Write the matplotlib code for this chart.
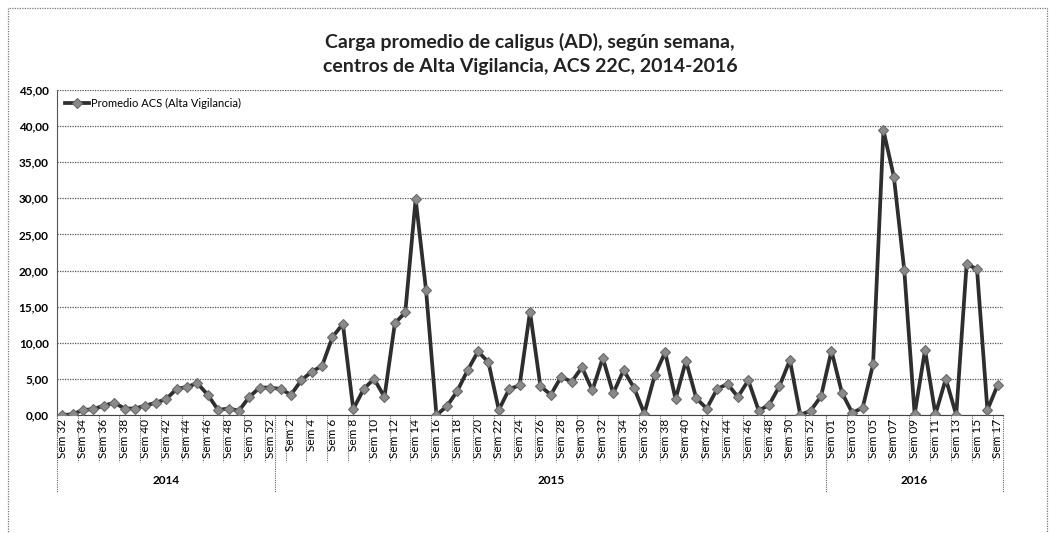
import matplotlib
matplotlib.use('Agg')
import matplotlib.pyplot as plt
import matplotlib.transforms as mtransforms
from matplotlib.patches import Rectangle

# --- data ---
weeks_2014 = list(range(32, 53))   # Sem 32 .. Sem 52
weeks_2015 = list(range(1, 54))    # Sem 1 .. Sem 53
weeks_2016 = list(range(1, 18))    # Sem 01 .. Sem 17
years = ['2014', '2015', '2016']

promedio = [
    # 2014
    0.0, 0.1, 0.7, 0.8, 1.3, 1.7, 0.9, 0.9, 1.3, 1.7, 2.2,
    3.6, 3.9, 4.4, 2.8, 0.7, 0.9, 0.6, 2.5, 3.8, 3.8,
    # 2015
    3.6, 2.8, 4.8, 6.0, 6.8, 10.8, 12.6, 0.8, 3.6, 5.0,
    2.5, 12.7, 14.2, 29.9, 17.3, 0.0, 1.2, 3.3, 6.2, 8.8,
    7.3, 0.7, 3.6, 4.1, 14.3, 4.0, 2.8, 5.3, 4.6, 6.6,
    3.4, 7.9, 3.0, 6.2, 3.8, 0.2, 5.5, 8.7, 2.2, 7.5,
    2.3, 0.9, 3.6, 4.3, 2.5, 4.8, 0.6, 1.4, 4.0, 7.6,
    0.0, 0.6, 2.6,
    # 2016
    8.9, 3.1, 0.3, 1.0, 7.0, 39.4, 33.0, 20.1, 0.1, 9.0,
    0.1, 5.0, 0.0, 20.9, 20.2, 0.7, 4.2,
]

cat_labels = (['Sem %d' % w for w in weeks_2014] +
              ['Sem %d' % w for w in weeks_2015] +
              ['Sem %02d' % w for w in weeks_2016])
group_sizes = [len(weeks_2014), len(weeks_2015), len(weeks_2016)]
y_ticks = [0, 5, 10, 15, 20, 25, 30, 35, 40, 45]

plt.rcParams['font.family'] = ['Lato', 'DejaVu Sans']

fig = plt.figure(figsize=(10.5, 5.33), dpi=100)
ax = fig.add_axes([57/1050, 1-415/533, 946/1050, 325/533])

x = list(range(len(promedio)))
ax.plot(x, promedio, color='#2e2e2e', lw=2.7, marker='D', ms=5.5,
        mfc='#8a8a8a', mec='#6a6a6a', mew=0.8,
        label='Promedio ACS (Alta Vigilancia)', zorder=3)

ax.set_xlim(-0.5, len(promedio) - 0.5)
ax.set_ylim(0, 45)
ax.set_yticks(y_ticks)
ax.set_yticklabels(['%d,00' % v for v in y_ticks], fontsize=8.5, fontweight='bold')
ax.yaxis.grid(True, color='#555555', ls=(0, (1, 1)), lw=0.9)
ax.set_axisbelow(True)
ax.tick_params(axis='y', length=0, pad=6)

# category labels every other week
tick_pos = list(range(0, len(promedio), 2))
ax.set_xticks(tick_pos)
ax.set_xticklabels([cat_labels[i] for i in tick_pos], rotation=90, fontsize=8.5)
ax.tick_params(axis='x', length=0, pad=3)

for sp in ['top', 'right']:
    ax.spines[sp].set_visible(False)
ax.spines['bottom'].set_color('#444444')
ax.spines['left'].set_color('#555555')
ax.spines['left'].set_linestyle((0, (1, 1)))

# multi-level axis dividers
tr = mtransforms.blended_transform_factory(ax.transData, ax.transAxes)
for p in tick_pos:
    ax.plot([p - 0.5, p - 0.5], [0, -0.145], transform=tr, clip_on=False,
            color='#666666', lw=0.8, ls=(0, (1, 1)))
edges = [-0.5, group_sizes[0] - 0.5, group_sizes[0] + group_sizes[1] - 0.5,
         len(promedio) - 0.5]
for e in edges:
    ax.plot([e, e], [0, -0.237], transform=tr, clip_on=False,
            color='#666666', lw=0.8, ls=(0, (1, 1)))
for k, yr in enumerate(years):
    ax.text((edges[k] + edges[k + 1]) / 2, -0.203, yr, transform=tr,
            ha='center', va='center', fontsize=8.5, fontweight='bold')

ax.legend(loc='upper left', frameon=False, fontsize=8, handlelength=2.2,
          borderaxespad=0.3, handletextpad=0.2, bbox_to_anchor=(0.0, 1.0))

fig.text(530/1050, 1-54/533,
         'Carga promedio de caligus (AD), según semana,\n'
         'centros de Alta Vigilancia, ACS 22C, 2014-2016',
         ha='center', va='center', fontsize=14, fontweight='bold',
         linespacing=1.45, color='#222222')

fig.patches.append(Rectangle((8/1050, -0.02), 1039/1050, 1.02 - 8/533,
                             transform=fig.transFigure, fill=False,
                             ec='#777777', lw=0.9, ls=(0, (1, 1))))

fig.savefig('out.png', dpi=100)
